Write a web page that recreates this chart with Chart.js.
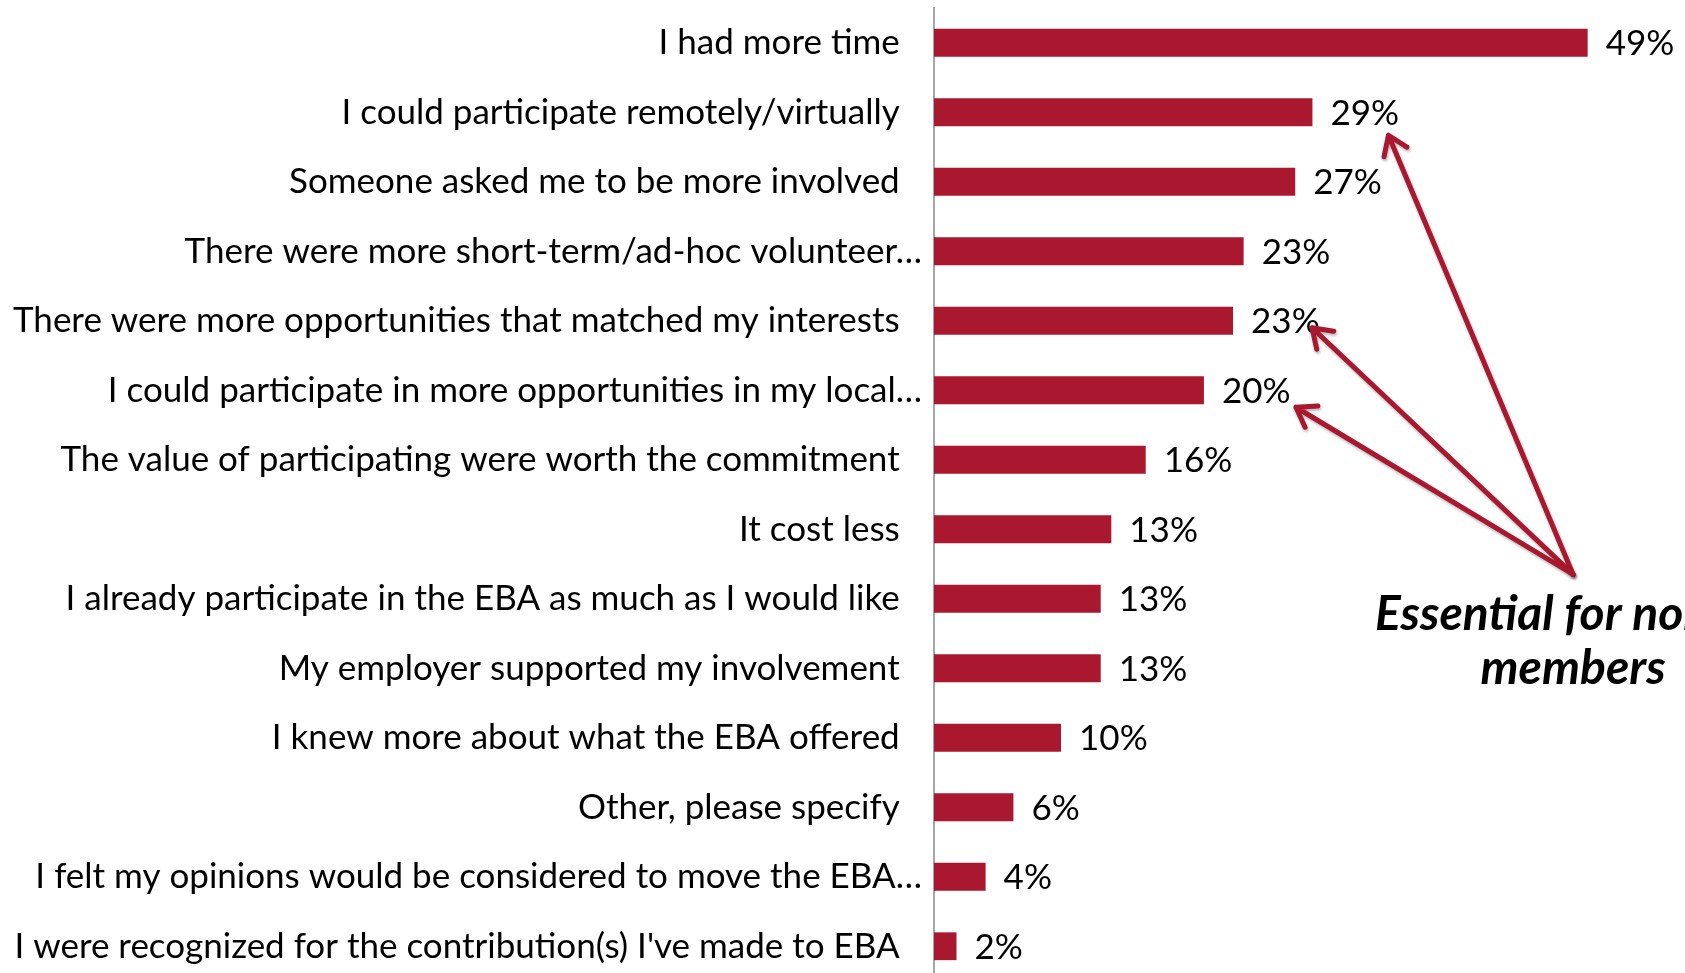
<!DOCTYPE html>
<html>
<head>
<meta charset="utf-8">
<title>EBA involvement</title>
<script src="https://cdn.jsdelivr.net/npm/chart.js@4/dist/chart.umd.min.js"></script>
<style>
  html, body { margin: 0; padding: 0; background: #fff; overflow: hidden; }
  #wrap { position: absolute; left: 0; top: 0; width: 1685px; height: 990px; }
</style>
</head>
<body>
<div id="wrap"><canvas id="chart" width="1685" height="990"></canvas></div>
<script>
// survey answers, top to bottom
const categories = [
  'I had more time',
  'I could participate remotely/virtually',
  'Someone asked me to be more involved',
  'There were more short-term/ad-hoc volunteer\u2026',
  'There were more opportunities that matched my interests',
  'I could participate in more opportunities in my local\u2026',
  'The value of participating were worth the commitment',
  'It cost less',
  'I already participate in the EBA as much as I would like',
  'My employer supported my involvement',
  'I knew more about what the EBA offered',
  'Other, please specify',
  'I felt my opinions would be considered to move the EBA\u2026',
  "I were recognized for the contribution(s) I've made to EBA"
];
const shares = [49.4, 28.6, 27.3, 23.4, 22.6, 20.4, 16.0, 13.4, 12.6, 12.6, 9.6, 6.0, 3.9, 1.7];

// rows the arrows point at, and the note they come from
const arrowRows = [1, 4, 5];
const noteLines = ['Essential for non-', 'members'];

const RED = '#A9182F';
const FONT = 'Lato, "Open Sans", sans-serif';
const labelSize = 35;

// value labels to the right of each bar
const valueLabels = {
  id: 'valueLabels',
  afterDatasetsDraw: function(chart) {
    const ctx = chart.ctx;
    const meta = chart.getDatasetMeta(0);
    ctx.save();
    ctx.font = labelSize + 'px ' + FONT;
    ctx.fillStyle = '#000';
    ctx.textAlign = 'left';
    ctx.textBaseline = 'middle';
    meta.data.forEach(function(bar, i) {
      ctx.fillText(Math.round(shares[i]) + '%', bar.x + 18, bar.y + 1);
    });
    ctx.restore();
  }
};

// callout text with arrows to three of the labels
const callout = {
  id: 'callout',
  afterDraw: function(chart) {
    const ctx = chart.ctx;
    const x = chart.scales.x;
    const y = chart.scales.y;
    const ox = x.getPixelForValue(48.3);
    const oy = y.getPixelForValue(7.65);
    const tips = [[76, 23], [79, 7], [92, 17]];

    ctx.save();
    ctx.strokeStyle = RED;
    ctx.lineWidth = 5;
    ctx.lineCap = 'round';
    ctx.lineJoin = 'round';
    ctx.shadowColor = 'rgba(0,0,0,0.3)';
    ctx.shadowBlur = 3;
    ctx.shadowOffsetX = 1;
    ctx.shadowOffsetY = 2;
    arrowRows.forEach(function(row, k) {
      const tx = x.getPixelForValue(shares[row]) + tips[k][0];
      const ty = y.getPixelForValue(row) + tips[k][1];
      const ang = Math.atan2(ty - oy, tx - ox);
      const len = 22, spread = 0.6;
      ctx.beginPath();
      ctx.moveTo(ox, oy);
      ctx.lineTo(tx, ty);
      ctx.moveTo(tx - len * Math.cos(ang - spread), ty - len * Math.sin(ang - spread));
      ctx.lineTo(tx, ty);
      ctx.lineTo(tx - len * Math.cos(ang + spread), ty - len * Math.sin(ang + spread));
      ctx.stroke();
    });
    ctx.restore();

    ctx.save();
    ctx.font = 'italic bold 48px ' + FONT;
    ctx.fillStyle = '#000';
    ctx.textBaseline = 'alphabetic';
    ctx.textAlign = 'left';
    ctx.fillText(noteLines[0], ox - 198, oy + 56);
    ctx.textAlign = 'center';
    ctx.fillText(noteLines[1], ox, oy + 110);
    ctx.restore();
  }
};

new Chart(document.getElementById('chart').getContext('2d'), {
  type: 'bar',
  data: {
    labels: categories,
    datasets: [{
      data: shares,
      backgroundColor: RED,
      borderWidth: 0,
      barPercentage: 0.4,
      categoryPercentage: 1
    }]
  },
  options: {
    indexAxis: 'y',
    responsive: false,
    animation: false,
    layout: { padding: { left: 0, right: 10, top: 8, bottom: 9 } },
    plugins: {
      legend: { display: false },
      tooltip: { enabled: false }
    },
    scales: {
      x: { display: false, min: 0, max: 56 },
      y: {
        grid: { display: false, drawTicks: false },
        border: { display: true, color: '#A6A6A6', width: 2 },
        ticks: {
          color: '#000',
          padding: 12,
          font: { family: FONT, size: labelSize },
          // full labels sit a little further from the axis than the cut ones
          callback: function(value, i) {
            const txt = categories[i];
            return txt.endsWith('\u2026') ? txt : txt + '  \u2009';
          }
        },
        afterFit: function(scale) {
          scale.width = 934;
          scale.paddingTop = 0;
          scale.paddingBottom = 0;
        }
      }
    }
  },
  plugins: [valueLabels, callout]
});
</script>
</body>
</html>
